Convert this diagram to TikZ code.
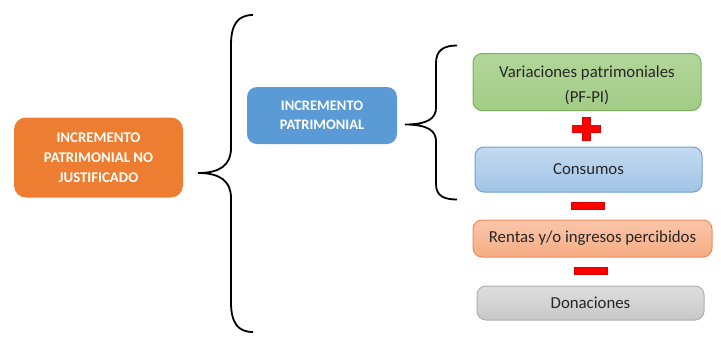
\documentclass[tikz,border=0pt]{standalone}
\usepackage{fontspec}
\setmainfont{Carlito}
\begin{document}
\begin{tikzpicture}[x=1pt,y=-1pt,
  box/.style={rounded corners=9pt, line width=1pt, align=center, inner sep=0pt, font=\fontsize{16.8}{25}\selectfont, text=black!85},
  mainbox/.style={rounded corners=12pt, draw=none, align=center, inner sep=0pt, text=white, font=\bfseries\fontsize{14.8}{20}\selectfont},
  bracestyle/.style={line width=1.8pt, black},
  sign/.style={fill=red, draw=red!85!black, line width=0.4pt}
]
\useasboundingbox (0,0) rectangle (721,357);
\definecolor{orangeM}{RGB}{237,125,49}
\definecolor{blueM}{RGB}{91,155,213}
\definecolor{greenT}{RGB}{178,214,154}
\definecolor{greenB}{RGB}{163,204,135}
\definecolor{greenD}{RGB}{122,178,92}
\definecolor{blueT}{RGB}{196,218,240}
\definecolor{blueB}{RGB}{160,196,232}
\definecolor{blueD}{RGB}{110,160,214}
\definecolor{orT}{RGB}{250,198,170}
\definecolor{orB}{RGB}{246,172,132}
\definecolor{orD}{RGB}{238,140,90}
\definecolor{grT}{RGB}{222,222,222}
\definecolor{grB}{RGB}{200,200,200}
\definecolor{grD}{RGB}{175,175,175}

% left main box
\node[mainbox, fill=orangeM, minimum width=169pt, minimum height=80pt] (ipnj) at (98.5,157.5) {INCREMENTO\\PATRIMONIAL NO\\JUSTIFICADO};
% middle box
\node[mainbox, fill=blueM, rounded corners=10pt, minimum width=150pt, minimum height=57pt, font=\bfseries\fontsize{14.5}{19.5}\selectfont] (ip) at (322,115.5) {INCREMENTO\\PATRIMONIAL};

% right boxes
\node[box, draw=greenD, top color=greenT, bottom color=greenB, minimum width=228pt, minimum height=57pt] (vp) at (587,82) {};
\node[align=center, inner sep=0pt, font=\fontsize{16.8}{25}\selectfont, text=black!85] (vpt) at (587,85) {Variaciones patrimoniales\\(PF-PI)};
\node[box, draw=blueD, top color=blueT, bottom color=blueB, minimum width=227pt, minimum height=45pt] (con) at (588.5,169.5) {Consumos};
\node[box, draw=orD, top color=orT, bottom color=orB, minimum width=239pt, minimum height=37pt] (ren) at (592.5,238.5) {Rentas y/o ingresos percibidos};
\node[box, draw=grD, top color=grT, bottom color=grB, minimum width=227pt, minimum height=34pt] (don) at (590.5,303) {Donaciones};

% signs
\node[sign, minimum width=28pt, minimum height=7.5pt, inner sep=0pt] (plush) at (586,128.5) {};
\node[sign, minimum width=8pt, minimum height=23pt, inner sep=0pt] (plusv) at (586,128.5) {};
\fill[red] (572.3,125) rectangle (599.7,132);
\node[sign, minimum width=33pt, minimum height=7pt, inner sep=0pt] (minus1) at (587.5,205.5) {};
\node[sign, minimum width=33pt, minimum height=7pt, inner sep=0pt] (minus2) at (590.5,270.5) {};

% big brace
\coordinate (b1tip) at (198,173);
\draw[bracestyle] (253,15) .. controls (238,15) and (231,24) .. (231,45) -- (231,148)
  .. controls (231,165) and (220,173) .. (b1tip)
  .. controls (220,173) and (231,181) .. (231,198) -- (231,302)
  .. controls (231,323) and (238,332) .. (253,332);
% small brace
\coordinate (b2tip) at (405,124.5);
\draw[bracestyle] (457,45.5) .. controls (444,45.5) and (436,50) .. (436,63) -- (436,108)
  .. controls (436,118) and (428,124.5) .. (b2tip)
  .. controls (428,124.5) and (436,131) .. (436,141) -- (436,184)
  .. controls (436,196) and (444,199.5) .. (457,199.5);
\end{tikzpicture}
\end{document}
